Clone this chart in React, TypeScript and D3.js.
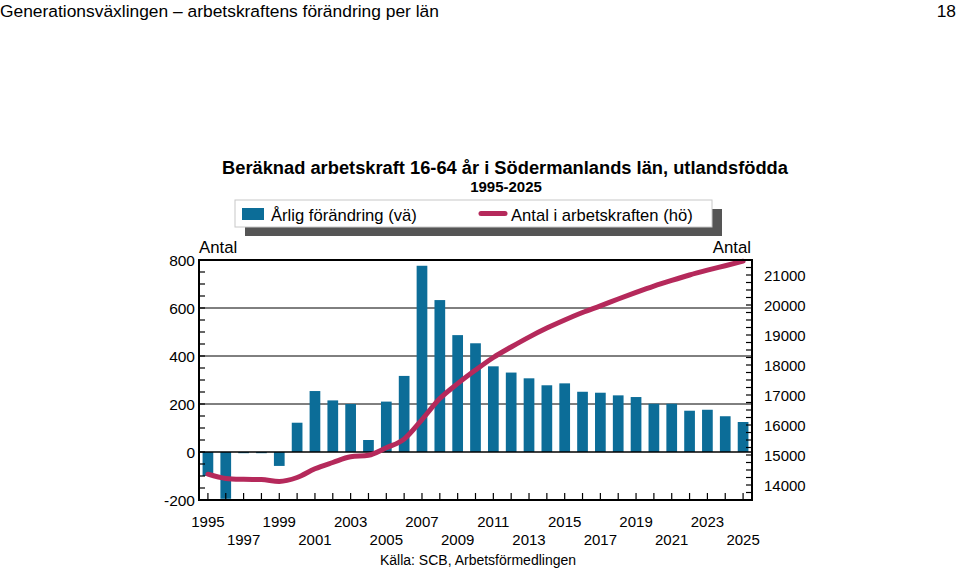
import React from "react";
import * as d3 from "d3";

const years: number[] = d3.range(1995, 2026);
const annualChange: number[] = [
  -100, -195, -5, -5, -58, 122, 254, 215, 200, 50, 210, 317, 776, 633, 487, 453,
  357, 331, 307, 278, 286, 251, 247, 236, 229, 201, 201, 172, 176, 149, 125,
];
const laborForce: number[] = [
  14360, 14220, 14190, 14180, 14120, 14250, 14540, 14750, 14940, 14990, 15240,
  15530, 16180, 16880, 17380, 17830, 18250, 18600, 18930, 19230, 19500, 19750,
  19970, 20200, 20420, 20630, 20820, 21000, 21160, 21310, 21460,
];
const leftTicks: number[] = [-200, 0, 200, 400, 600, 800];
const rightTicks: number[] = [14000, 15000, 16000, 17000, 18000, 19000, 20000, 21000];
const gridValues: number[] = [200, 400, 600];

const FONT = "'Liberation Sans', Arial, sans-serif";
const BAR = "#0c6d98";
const LINE = "#b5295b";

export default function App() {
  const W = 960, H = 568;
  const L = 199, R = 752, T = 260, B = 500;
  const x = d3.scaleBand<number>().domain(years).range([L, R]).paddingInner(0.4).paddingOuter(0.2);
  const yL = d3.scaleLinear().domain([-200, 800]).range([B, T]);
  const yR = d3.scaleLinear().domain([13500, 21500]).range([B, T]);
  const cx = (yr: number) => (x(yr) as number) + x.bandwidth() / 2;

  const line = d3
    .line<number>()
    .x((_, i) => cx(years[i]))
    .y((v) => yR(v))
    .curve(d3.curveMonotoneX);

  const minorLeft = d3.range(-200, 801, 50);
  const minorRight = d3.range(13500, 21501, 250);

  return (
    <div style={{ position: "absolute", left: 0, top: 0 }}>
      <svg width={W} height={H} style={{ display: "block", background: "#fff" }} fontFamily={FONT}>
        <text x={0} y={17} fontSize={17.4} fill="#000">
          Generationsväxlingen – arbetskraftens förändring per län
        </text>
        <text x={956} y={17} fontSize={17.4} textAnchor="end" fill="#000">18</text>

        <text x={505} y={174} fontSize={18.3} fontWeight="bold" textAnchor="middle">
          Beräknad arbetskraft 16-64 år i Södermanlands län, utlandsfödda
        </text>
        <text x={506} y={192} fontSize={15} fontWeight="bold" textAnchor="middle">
          1995-2025
        </text>

        {/* legend */}
        <rect x={245} y={209} width={477} height={27} fill="#555" />
        <rect x={235} y={200} width={477} height={27} fill="#fff" stroke="#c8c8c8" strokeWidth={1} />
        <rect x={242} y={208} width={22} height={12} fill={BAR} />
        <text x={271} y={220.5} fontSize={16.6}>Årlig förändring (vä)</text>
        <line x1={481} x2={505} y1={213.5} y2={213.5} stroke={LINE} strokeWidth={5} strokeLinecap="round" />
        <text x={511} y={220.5} fontSize={16.6}>Antal i arbetskraften (hö)</text>

        <text x={199} y={253} fontSize={16.8}>Antal</text>
        <text x={751} y={253} fontSize={16.8} textAnchor="end">Antal</text>

        {/* gridlines */}
        {gridValues.map((v) => (
          <line key={v} x1={L} x2={R} y1={yL(v)} y2={yL(v)} stroke="#000" strokeWidth={1} />
        ))}

        {/* bars */}
        {annualChange.map((v, i) => (
          <rect
            key={years[i]}
            x={x(years[i])}
            y={Math.min(yL(v), yL(0))}
            width={x.bandwidth()}
            height={Math.max(1, Math.abs(yL(v) - yL(0)))}
            fill={BAR}
          />
        ))}

        <line x1={L} x2={R} y1={yL(0)} y2={yL(0)} stroke="#000" strokeWidth={1.5} />

        <path d={line(laborForce) || ""} fill="none" stroke={LINE} strokeWidth={5} strokeLinejoin="round" strokeLinecap="round" />

        {/* ticks */}
        {minorLeft.map((v) => (
          <line key={"l" + v} x1={L} x2={L + 6} y1={yL(v)} y2={yL(v)} stroke="#000" strokeWidth={1.2} />
        ))}
        {minorRight.map((v) => (
          <line key={"r" + v} x1={R} x2={R - 6} y1={yR(v)} y2={yR(v)} stroke="#000" strokeWidth={1.2} />
        ))}
        {years.map((yr) => (
          <line key={"b" + yr} x1={cx(yr)} x2={cx(yr)} y1={B} y2={B - 7} stroke="#000" strokeWidth={1.2} />
        ))}

        <rect x={L} y={T} width={R - L} height={B - T} fill="none" stroke="#000" strokeWidth={2} />

        {leftTicks.map((v) => (
          <text key={"lt" + v} x={195} y={yL(v) + 5.5} fontSize={15.5} textAnchor="end">{v}</text>
        ))}
        {rightTicks.map((v) => (
          <text key={"rt" + v} x={764} y={yR(v) + 5.5} fontSize={15}>{v}</text>
        ))}
        {years.filter((yr) => yr % 2 === 1).map((yr) => (
          <text
            key={"xt" + yr}
            x={cx(yr)}
            y={(yr - 1995) % 4 === 0 ? 527 : 545}
            fontSize={15}
            textAnchor="middle"
          >
            {yr}
          </text>
        ))}

        <text x={478} y={565} fontSize={14} textAnchor="middle">Källa: SCB, Arbetsförmedlingen</text>
      </svg>
    </div>
  );
}
